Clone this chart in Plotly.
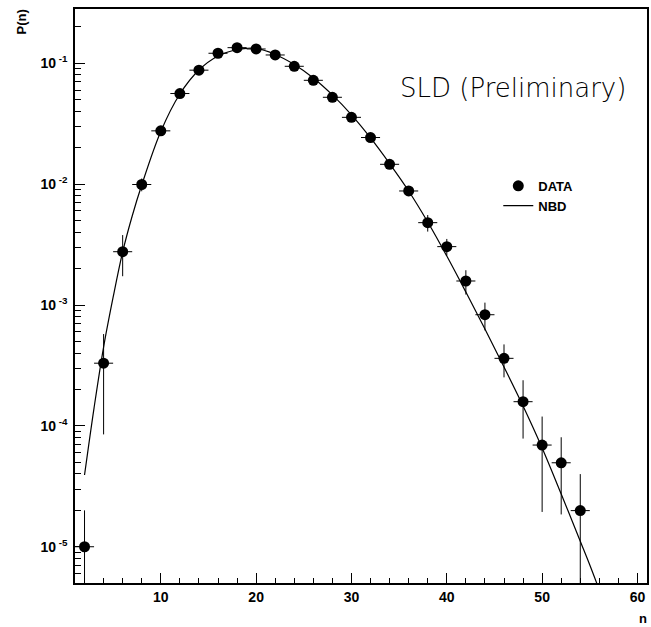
import plotly.graph_objects as go

# ---- data ----
n_data = [2, 4, 6, 8, 10, 12, 14, 16, 18, 20, 22, 24, 26, 28, 30, 32, 34, 36, 38,
          40, 42, 44, 46, 48, 50, 52, 54]
p_data = [1.0e-5, 3.30e-4, 2.76e-3, 9.93e-3, 0.0276, 0.0562, 0.0877, 0.121, 0.1346,
          0.1313, 0.1171, 0.0944, 0.0723, 0.0523, 0.0357, 0.0243, 0.01459, 0.00878,
          0.0048, 0.00304, 0.00158, 8.31e-4, 3.62e-4, 1.585e-4, 6.94e-5, 4.95e-5, 1.99e-5]
p_err = [1.0e-5, 2.45e-4, 1.03e-3, 1.2e-3, 1.2e-3, 2.0e-3, 3.0e-3, 3.5e-3, 3.8e-3,
         3.8e-3, 3.5e-3, 3.0e-3, 2.5e-3, 2.0e-3, 1.5e-3, 1.1e-3, 8.0e-4, 6.0e-4,
         7.5e-4, 4.8e-4, 3.6e-4, 2.15e-4, 1.1e-4, 8.0e-5, 5.0e-5, 3.1e-5, 2.0e-5]
n_halfwidth = 1

n_fit = [2, 3, 4, 5, 6, 7, 8, 10, 12, 14, 16, 18, 19, 20, 22, 24, 26, 28, 30, 32, 34,
         36, 38, 40, 42, 44, 46, 48, 50, 52, 54, 55, 56]
p_fit = [3.92e-5, 1.41e-4, 4.49e-4, 1.16e-3, 2.75e-3, 5.45e-3, 9.84e-3, 0.0273, 0.0557,
         0.0880, 0.1149, 0.1300, 0.1330, 0.1326, 0.1183, 0.0977, 0.0756, 0.0547, 0.0374,
         0.0241, 0.0148, 0.00878, 0.00486, 0.00254, 0.00128, 6.33e-4, 3.07e-4, 1.46e-4,
         6.56e-5, 2.73e-5, 1.11e-5, 7.06e-6, 4.38e-6]

y_tickvals = [1e-5, 1e-4, 1e-3, 1e-2, 1e-1]
y_ticktext = ["10<sup> -5</sup>", "10<sup> -4</sup>", "10<sup> -3</sup>",
              "10<sup> -2</sup>", "10<sup> -1</sup>"]
y_minor = [k * 10.0 ** e for e in range(-6, 0) for k in range(2, 10)]

FAM = "Liberation Sans, Arial, sans-serif"
BOLD = dict(family=FAM, size=14, color="black", weight="bold")
BOLD13 = dict(family=FAM, size=13, color="black", weight="bold")

fig = go.Figure()
fig.add_trace(go.Scatter(
    x=n_data, y=p_data, mode="markers", name="DATA",
    marker=dict(symbol="circle", size=11, color="black"),
    error_y=dict(type="data", array=p_err, visible=True, color="black", thickness=1, width=0),
    error_x=dict(type="constant", value=n_halfwidth, visible=True, color="black", thickness=1, width=0),
))
fig.add_trace(go.Scatter(
    x=n_fit, y=p_fit, mode="lines", name="NBD",
    line=dict(color="black", width=1.2, shape="spline"),
))

fig.update_layout(
    width=651, height=627,
    margin=dict(l=75, r=2, t=9, b=44),
    paper_bgcolor="white", plot_bgcolor="white",
    showlegend=True,
    legend=dict(x=0.74, y=0.718, xanchor="left", yanchor="top",
                bgcolor="rgba(0,0,0,0)", borderwidth=0, font=BOLD13),
    xaxis=dict(range=[1, 61], tick0=0, dtick=10, ticks="inside", ticklen=10,
               tickwidth=1, tickcolor="black", showgrid=False, zeroline=False,
               showline=True, mirror=True, linecolor="black", linewidth=1.5,
               tickfont=BOLD,
               minor=dict(dtick=2, tick0=0, ticks="inside", ticklen=5,
                          tickwidth=1, tickcolor="black", showgrid=False)),
    yaxis=dict(type="log", range=[-5.30, -0.551], tickmode="array",
               tickvals=y_tickvals, ticktext=y_ticktext,
               ticks="inside", ticklen=10, tickwidth=1, tickcolor="black",
               showgrid=False, zeroline=False, showline=True, mirror=True,
               linecolor="black", linewidth=1.5, tickfont=BOLD,
               ticklabelstandoff=3,
               minor=dict(tickmode="array", tickvals=y_minor, ticks="inside",
                          ticklen=6, tickwidth=1, tickcolor="black", showgrid=False)),
    annotations=[
        dict(text="P(n)", xref="paper", yref="paper", x=-0.094, y=0.977,
             xanchor="center", yanchor="middle",
             showarrow=False, textangle=-90, font=BOLD13),
        dict(text="n", xref="paper", yref="paper", x=0.993, y=-0.061,
             xanchor="center", yanchor="middle",
             showarrow=False, font=BOLD13),
        dict(text="SLD (Preliminary)", xref="paper", yref="paper", x=0.7666, y=0.8624,
             xanchor="center", yanchor="middle", showarrow=False,
             font=dict(family="DejaVu Sans", size=26, color="black", weight=200)),
    ],
)

fig.write_html("out.html")
